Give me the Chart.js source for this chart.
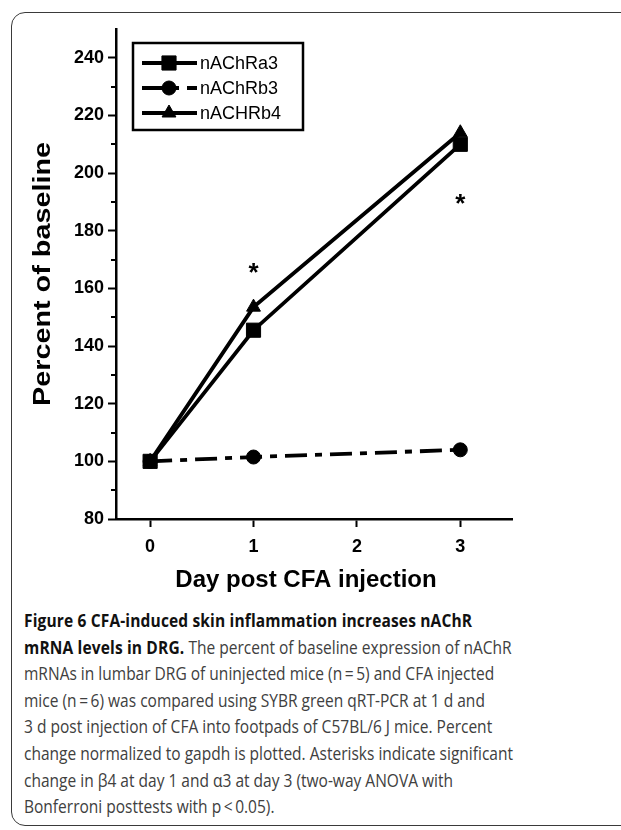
<!DOCTYPE html>
<html><head><meta charset="utf-8">
<script src="https://cdn.jsdelivr.net/npm/chart.js@4.4.1/dist/chart.umd.min.js"></script>
<style>
html,body{margin:0;padding:0;background:#fff;width:621px;height:830px;overflow:hidden;}
#clip{position:absolute;left:0;top:0;width:621px;height:830px;overflow:hidden;}
#frame{position:absolute;left:11px;top:12px;width:760px;height:814px;border:1.5px solid #3a3a3a;border-radius:14px;box-sizing:border-box;}
#c{position:absolute;left:0;top:0;}
#cap{position:absolute;left:24px;top:607px;font-family:'Open Sans','Noto Sans',sans-serif;font-size:18px;line-height:26.6px;color:#404040;transform-origin:0 0;white-space:nowrap;}
#cap b{color:#111;font-weight:700;letter-spacing:0.17px;}
#cap span{display:inline-block;}
</style></head><body>
<div id="clip"><div id="frame"></div></div>
<canvas id="c" width="621" height="600"></canvas>
<div id="cap">
<div><span><b>Figure 6 CFA-induced skin inflammation increases nAChR</b></span></div>
<div><span><b>mRNA levels in DRG.</b> The percent of baseline expression of nAChR</span></div>
<div><span>mRNAs in lumbar DRG of uninjected mice (n&#8201;=&#8201;5) and CFA injected</span></div>
<div><span>mice (n&#8201;=&#8201;6) was compared using SYBR green qRT-PCR at 1 d and</span></div>
<div><span>3 d post injection of CFA into footpads of C57BL/6 J mice. Percent</span></div>
<div><span>change normalized to gapdh is plotted. Asterisks indicate significant</span></div>
<div><span>change in β4 at day 1 and α3 at day 3 (two-way ANOVA with</span></div>
<div><span>Bonferroni posttests with p&#8201;&lt;&#8201;0.05).</span></div>
</div>
<script>
// ---- data ----
const days = [0, 1, 3];
const seriesNames = ['nAChRa3', 'nAChRb3', 'nACHRb4'];
const a3Values = [100, 145.5, 210];
const b3Values = [100, 101.5, 104];
const b4Values = [100, 153.5, 214];
const xTickValues = [0, 1, 2, 3];
const yTickValues = [80, 100, 120, 140, 160, 180, 200, 220, 240];
const yMinorTickValues = [90, 110, 130, 150, 170, 190, 210, 230];
const sigDays = [1, 3];
const sigValues = [165, 189];
const xTitle = 'Day post CFA injection';
const yTitle = 'Percent of baseline';

const FONT = '"Liberation Sans", Arial, sans-serif';
const pts = vals => days.map((d, i) => ({x: d, y: vals[i]}));

const minorTicks = {
  id: 'minorTicks',
  afterDraw(chart) {
    const ctx = chart.ctx, y = chart.scales.y, left = chart.chartArea.left;
    ctx.save();
    ctx.strokeStyle = '#000'; ctx.lineWidth = 2;
    yMinorTickValues.forEach(v => {
      const py = Math.round(y.getPixelForValue(v));
      ctx.beginPath(); ctx.moveTo(left - 5, py); ctx.lineTo(left, py); ctx.stroke();
    });
    ctx.restore();
  }
};

// axis titles (the y title is stretched along its length as in the figure)
const axisTitles = {
  id: 'axisTitles',
  afterDraw(chart) {
    const ctx = chart.ctx, a = chart.chartArea;
    ctx.save();
    ctx.fillStyle = '#000';
    ctx.font = 'bold 24px ' + FONT;
    ctx.textAlign = 'center'; ctx.textBaseline = 'middle';
    ctx.fillText(xTitle, (a.left + a.right) / 2 - 8, a.bottom + 61);
    ctx.translate(43, (a.top + a.bottom) / 2);
    ctx.rotate(-Math.PI / 2);
    ctx.scale(1.2, 1);
    ctx.fillText(yTitle, 0, 0);
    ctx.restore();
  }
};

const asterisks = {
  id: 'asterisks',
  afterDatasetsDraw(chart) {
    const ctx = chart.ctx, {x, y} = chart.scales;
    ctx.save();
    ctx.fillStyle = '#000';
    ctx.font = 'bold 26px ' + FONT;
    ctx.textAlign = 'center'; ctx.textBaseline = 'middle';
    sigDays.forEach((d, i) => ctx.fillText('*', x.getPixelForValue(d), y.getPixelForValue(sigValues[i])));
    ctx.restore();
  }
};

const boxLegend = {
  id: 'boxLegend',
  afterDatasetsDraw(chart) {
    const ctx = chart.ctx;
    ctx.save();
    ctx.strokeStyle = '#000'; ctx.lineWidth = 2.5;
    ctx.strokeRect(133, 43, 170, 87);
    chart.data.datasets.forEach((ds, i) => {
      const cy = 63 + i * 25;
      ctx.beginPath();
      ctx.setLineDash(ds.borderDash || []);
      ctx.lineWidth = ds.borderWidth;
      ctx.moveTo(142, cy); ctx.lineTo(197, cy); ctx.stroke();
      ctx.setLineDash([]);
      ctx.fillStyle = '#000'; ctx.lineWidth = 1;
      Chart.helpers.drawPoint(ctx, {pointStyle: ds.pointStyle, radius: ds.pointRadius, borderWidth: 1, rotation: 0}, 169, cy);
      ctx.font = '18px ' + FONT;
      ctx.textAlign = 'left'; ctx.textBaseline = 'middle';
      ctx.fillText(ds.label, 200, cy + 1);
    });
    ctx.restore();
  }
};

const common = {borderColor: '#000', backgroundColor: '#000', pointBackgroundColor: '#000', pointBorderColor: '#000', pointBorderWidth: 1, borderWidth: 3.8, fill: false, tension: 0};

new Chart(document.getElementById('c'), {
  type: 'line',
  data: {
    datasets: [
      Object.assign({label: seriesNames[0], data: pts(a3Values), pointStyle: 'rect', pointRadius: 10}, common),
      Object.assign({label: seriesNames[1], data: pts(b3Values), pointStyle: 'circle', pointRadius: 7, borderDash: [22, 8, 7, 8]}, common),
      Object.assign({label: seriesNames[2], data: pts(b4Values), pointStyle: 'triangle', pointRadius: 8}, common)
    ]
  },
  options: {
    responsive: false, animation: false, devicePixelRatio: 1,
    layout: {padding: {left: 0, top: 29, right: 109, bottom: 0}},
    plugins: {legend: {display: false}, tooltip: {enabled: false}},
    scales: {
      x: {
        type: 'linear', min: -0.33, max: 3.5,
        afterBuildTicks: s => { s.ticks = xTickValues.map(v => ({value: v})); },
        afterFit: s => { s.height = 81; },
        grid: {display: true, drawOnChartArea: false, drawTicks: true, tickLength: 8, tickWidth: 2, tickColor: '#000'},
        border: {display: true, color: '#000', width: 2.5},
        ticks: {color: '#000', font: {family: FONT, size: 18, weight: 'bold'}, padding: 9, maxRotation: 0},
        title: {display: false, text: xTitle}
      },
      y: {
        type: 'linear', min: 80, max: 250,
        afterBuildTicks: s => { s.ticks = yTickValues.map(v => ({value: v})); },
        afterFit: s => { s.width = 116; },
        grid: {display: true, drawOnChartArea: false, drawTicks: true, tickLength: 8, tickWidth: 2, tickColor: '#000'},
        border: {display: true, color: '#000', width: 2.5},
        ticks: {color: '#000', font: {family: FONT, size: 18, weight: 'bold'}, padding: 4},
        title: {display: false, text: yTitle}
      }
    }
  },
  plugins: [minorTicks, asterisks, boxLegend, axisTitles]
});

function fitCaption() {
  const cap = document.getElementById('cap');
  cap.style.transform = 'none';
  let w = 0;
  cap.querySelectorAll('span').forEach(s => { w = Math.max(w, s.getBoundingClientRect().width); });
  if (w > 0) cap.style.transform = 'scaleX(' + (489 / w) + ')';
}
fitCaption();
if (document.fonts && document.fonts.ready) document.fonts.ready.then(fitCaption);
</script>
</body></html>
